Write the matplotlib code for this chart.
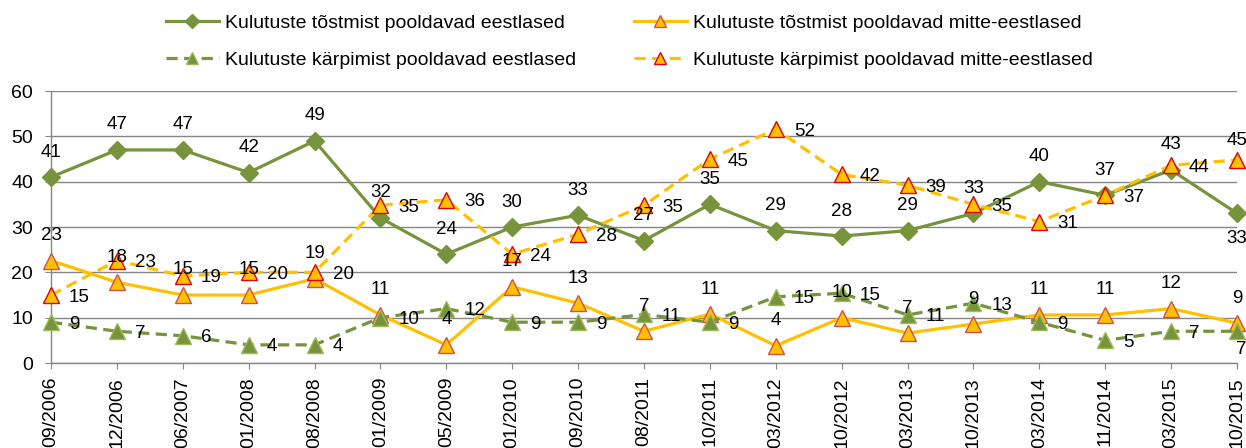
import matplotlib
matplotlib.use("Agg")
from matplotlib import pyplot as plt
from matplotlib.lines import Line2D

plt.rcParams['font.family'] = ['Liberation Sans', 'DejaVu Sans']

periods = ["09/2006", "12/2006", "06/2007", "01/2008", "08/2008", "01/2009",
           "05/2009", "01/2010", "09/2010", "08/2011", "10/2011", "03/2012",
           "10/2012", "03/2013", "10/2013", "03/2014", "11/2014", "03/2015",
           "10/2015"]

# values (labels are these rounded)
raise_est = [41, 47, 47, 42, 49, 32, 24, 30, 32.6, 27, 35, 29.2, 28, 29.2, 33, 40, 37, 42.6, 33]
raise_non = [22.6, 17.8, 15, 15, 18.6, 10.6, 4, 16.8, 13.2, 7, 10.8, 3.8, 10, 6.6, 8.6, 10.6, 10.6, 12, 8.8]
cut_est = [9, 7, 6, 4, 4, 10, 12, 9, 9, 10.7, 9, 14.6, 15.4, 10.6, 13.2, 9, 5, 7, 7]
cut_non = [15, 22.6, 19.2, 20, 20, 34.8, 36, 24, 28.4, 34.8, 45, 51.6, 41.6, 39.2, 35, 31.2, 37, 43.6, 44.8]

GREEN = "#77933C"
ORANGE = "#FFC000"
GRID = "#868686"

fig = plt.figure(figsize=(12.46, 4.48), dpi=100)
ax = fig.add_axes([51 / 1246, 1 - 363 / 448, (1237 - 51) / 1246, (363 - 91) / 448])

x = list(range(len(periods)))
dash = (0, (3.5, 2))

ax.plot(x, raise_est, color=GREEN, lw=2.3, marker="D", ms=9,
        mfc=GREEN, mec=GREEN, clip_on=False, zorder=4)
ax.plot(x, raise_non, color=ORANGE, lw=2.3, marker="^", ms=11,
        mfc=ORANGE, mec="#D0504D", mew=1, clip_on=False, zorder=3)
ax.plot(x, cut_est, color=GREEN, lw=2.3, ls=dash, marker="^", ms=11,
        mfc=GREEN, mec="#9BBB59", mew=1, clip_on=False, zorder=3)
ax.plot(x, cut_non, color=ORANGE, lw=2.3, ls=dash, marker="^", ms=11,
        mfc=ORANGE, mec="#E00000", mew=1, clip_on=False, zorder=4)

fs = 13.5


def lab(xi, yi, pos):
    txt = f"{yi:.0f}"
    if pos == "above":
        off, ha = (0, 25), "center"
    elif pos == "below":
        off, ha = (0, -25), "center"
    else:
        off, ha = (18, -2), "left"
    ax.annotate(txt, (xi, yi), xytext=off, textcoords="offset pixels",
                ha=ha, va="center", fontsize=fs, zorder=6, annotation_clip=False)


n = len(periods)
for i in range(n):
    lab(i, raise_est[i], "below" if i == n - 1 else "above")
    lab(i, raise_non[i], "above")
    if i == n - 1:
        ax.annotate(f"{cut_est[i]:.0f}", (i, cut_est[i]), xytext=(4, -18),
                    textcoords="offset pixels", ha="center", va="center",
                    fontsize=fs, annotation_clip=False)
        ax.annotate(f"{cut_non[i]:.0f}", (i, cut_non[i]), xytext=(0, 19),
                    textcoords="offset pixels", ha="center", va="center",
                    fontsize=fs, annotation_clip=False)
    else:
        lab(i, cut_est[i], "right")
        lab(i, cut_non[i], "right")

ax.set_xlim(0, n - 1)
ax.set_ylim(0, 60)
ax.set_yticks(range(0, 61, 10))
ax.set_xticks(x)
ax.set_xticklabels(periods, rotation=90, fontsize=14, va="top")
ax.tick_params(axis="y", labelsize=14, length=4, pad=9, color=GRID)
ax.tick_params(axis="x", length=4, pad=6, color=GRID)
ax.yaxis.grid(True, color=GRID, lw=1)
ax.set_axisbelow(True)
for s in ["top", "right"]:
    ax.spines[s].set_visible(False)
for s in ["left", "bottom"]:
    ax.spines[s].set_color(GRID)
    ax.spines[s].set_linewidth(1)

h1 = Line2D([], [], color=GREEN, lw=2.3, marker="D", ms=7, mfc=GREEN, mec=GREEN)
h3 = Line2D([], [], color=GREEN, lw=2.3, ls=dash, marker="^", ms=9,
            mfc=GREEN, mec="#9BBB59")
h2 = Line2D([], [], color=ORANGE, lw=2.3, marker="^", ms=9, mfc=ORANGE, mec="#D0504D")
h4 = Line2D([], [], color=ORANGE, lw=2.3, ls=dash, marker="^", ms=9,
            mfc=ORANGE, mec="#E00000")

common = dict(frameon=False, fontsize=14, handlelength=2.7, handletextpad=0.35,
              labelspacing=1.0, borderpad=0, borderaxespad=0, loc="upper left")
leg1 = fig.legend([h1, h3], ["Kulutuste tõstmist pooldavad eestlased",
                             "Kulutuste kärpimist pooldavad eestlased"],
                  bbox_to_anchor=(166 / 1246, 1 - 14 / 448), **common)
leg2 = fig.legend([h2, h4], ["Kulutuste tõstmist pooldavad mitte-eestlased",
                             "Kulutuste kärpimist pooldavad mitte-eestlased"],
                  bbox_to_anchor=(634 / 1246, 1 - 14 / 448), **common)

fig.savefig("out.png", dpi=100)
